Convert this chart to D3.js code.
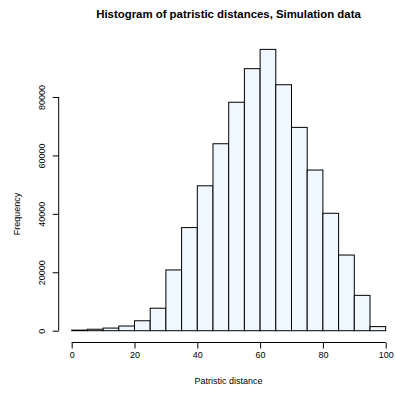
<!DOCTYPE html>
<html>
<head>
<meta charset="utf-8">
<script src="https://cdn.jsdelivr.net/npm/d3@7"></script>
<style>
  body { margin: 0; background: #fff; }
  text { font-family: "Liberation Sans", Arial, sans-serif; }
</style>
</head>
<body>
<div id="chart"></div>
<script>
// bin edges (width 5) and counts per bin
const binStarts = [0, 5, 10, 15, 20, 25, 30, 35, 40, 45, 50, 55, 60, 65, 70, 75, 80, 85, 90, 95];
const binWidth = 5;
const counts = [200, 500, 900, 1600, 3400, 7700, 20800, 35300, 49600, 64000, 78200, 89700, 96300, 84200, 69600, 55000, 40200, 25900, 12100, 1400];
const xTicks = [0, 20, 40, 60, 80, 100];
const yTicks = [0, 20000, 40000, 60000, 80000];

const width = 396, height = 394;

const svg = d3.select("#chart").append("svg")
  .attr("width", width)
  .attr("height", height);

const x = d3.scaleLinear().domain([0, 100]).range([71.7, 385.7]);
const y = d3.scaleLinear().domain([0, 80000]).range([330.7, 97]);

// bars
svg.selectAll("rect.bar")
  .data(binStarts)
  .enter()
  .append("rect")
  .attr("class", "bar")
  .attr("x", d => x(d))
  .attr("y", (d, i) => y(counts[i]))
  .attr("width", d => x(d + binWidth) - x(d))
  .attr("height", (d, i) => y(0) - y(counts[i]))
  .attr("fill", "#F0F8FF")
  .attr("stroke", "#000")
  .attr("stroke-width", 1);

// x axis
const xAxis = svg.append("g")
  .attr("transform", "translate(0,342.5)")
  .call(d3.axisBottom(x).tickValues(xTicks).tickSize(6).tickPadding(3).tickFormat(d3.format("d")));
xAxis.selectAll("text").style("font-size", "9px").attr("fill", "#000");
xAxis.selectAll("line, path").attr("stroke", "#000");
xAxis.select(".domain").attr("d", `M${x(0)},0H${x(100)}`);

// y axis
const yAxis = svg.append("g")
  .attr("transform", "translate(58.7,0)")
  .call(d3.axisLeft(y).tickValues(yTicks).tickSize(6).tickPadding(5).tickFormat(d3.format("d")));
yAxis.selectAll("line, path").attr("stroke", "#000");
yAxis.select(".domain").attr("d", `M0,${y(0)}V${y(80000)}`);
yAxis.selectAll("text")
  .style("font-size", "9px")
  .attr("fill", "#000")
  .attr("x", null)
  .attr("dy", null)
  .attr("y", 0)
  .attr("text-anchor", "middle")
  .attr("transform", "translate(-14,0) rotate(-90)");

// titles
svg.append("text")
  .attr("x", 228.5)
  .attr("y", 18)
  .attr("text-anchor", "middle")
  .style("font-size", "11.4px")
  .style("font-weight", "bold")
  .text("Histogram of patristic distances, Simulation data");

svg.append("text")
  .attr("x", 228.5)
  .attr("y", 384)
  .attr("text-anchor", "middle")
  .style("font-size", "9px")
  .text("Patristic distance");

svg.append("text")
  .attr("transform", "translate(20,214) rotate(-90)")
  .attr("text-anchor", "middle")
  .style("font-size", "9px")
  .text("Frequency");
</script>
</body>
</html>
